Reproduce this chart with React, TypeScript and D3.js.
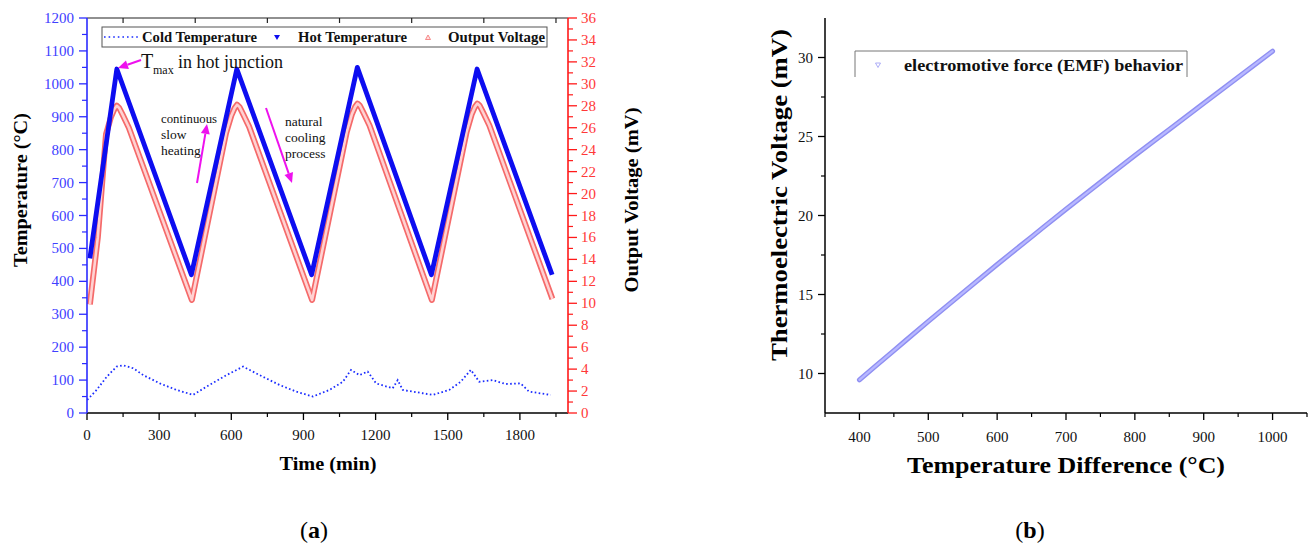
import React from 'react';
import * as d3 from 'd3';

// ---------- Data (a) ----------
const hotTime = [12, 124, 434, 623, 934, 1124, 1432, 1622, 1934];
const hotTemp = [470, 1045, 420, 1045, 420, 1050, 420, 1045, 420];

const voltTime = [12, 45, 79, 100, 114, 124, 134, 150, 174, 436, 578, 600, 614, 624, 634, 650, 674, 936, 1080, 1101, 1115, 1125, 1135, 1151, 1175, 1434, 1578, 1599, 1613, 1623, 1633, 1649, 1673, 1935];
const voltValue = [9.9, 16.0, 25.4, 27.0, 27.7, 28.0, 27.8, 27.1, 26.0, 10.3, 25.5, 27.1, 27.8, 28.1, 27.9, 27.2, 26.1, 10.3, 25.6, 27.2, 27.9, 28.2, 28.0, 27.3, 26.2, 10.3, 25.6, 27.2, 27.9, 28.2, 28.0, 27.3, 26.2, 10.4];

const coldTime = [1, 40, 82, 123, 150, 192, 234, 303, 372, 441, 497, 580, 649, 718, 801, 870, 939, 1008, 1064, 1098, 1133, 1167, 1202, 1271, 1292, 1313, 1396, 1438, 1506, 1554, 1596, 1631, 1686, 1741, 1803, 1838, 1928];
const coldTemp = [40, 70, 110, 141, 145, 136, 115, 90, 70, 55, 80, 115, 141, 115, 85, 65, 50, 70, 95, 131, 115, 126, 90, 75, 100, 70, 60, 55, 70, 95, 131, 95, 100, 88, 90, 65, 55];

const timeTicks = [0, 300, 600, 900, 1200, 1500, 1800];
const tempTicks = [0, 100, 200, 300, 400, 500, 600, 700, 800, 900, 1000, 1100, 1200];
const voltTicks = [0, 2, 4, 6, 8, 10, 12, 14, 16, 18, 20, 22, 24, 26, 28, 30, 32, 34, 36];
const legendA = ['Cold Temperature', 'Hot Temperature', 'Output Voltage'];

// ---------- Data (b) ----------
const dT = [400, 450, 500, 550, 600, 650, 700, 750, 800, 850, 900, 950, 1000];
const emf = [9.6, 11.45, 13.3, 15.1, 16.9, 18.65, 20.4, 22.1, 23.8, 25.45, 27.1, 28.75, 30.4];
const dTTicks = [400, 500, 600, 700, 800, 900, 1000];
const emfTicks = [10, 15, 20, 25, 30];
const legendB = 'electromotive force (EMF) behavior';

const SERIF = '"Liberation Serif", "Times New Roman", serif';
const MAG = '#ee11ee';

function Arrow({ x1, y1, x2, y2 }: { x1: number; y1: number; x2: number; y2: number }) {
  const ang = Math.atan2(y2 - y1, x2 - x1);
  const L = 10, W = 4.5;
  const bx = x2 - L * Math.cos(ang), by = y2 - L * Math.sin(ang);
  const px = -Math.sin(ang) * W, py = Math.cos(ang) * W;
  return (
    <g>
      <line x1={x1} y1={y1} x2={bx} y2={by} stroke={MAG} strokeWidth={2} />
      <path d={`M${x2},${y2}L${bx + px},${by + py}L${bx - px},${by - py}Z`} fill={MAG} />
    </g>
  );
}

export default function App() {
  // scales (a)
  const xA = d3.scaleLinear().domain([0, 2000]).range([87, 568]);
  const yA = d3.scaleLinear().domain([0, 1200]).range([413, 18]);
  const yV = d3.scaleLinear().domain([0, 36]).range([413, 18]);
  // scales (b)
  const xB = d3.scaleLinear().domain([350, 1050]).range([825, 1307]);
  const yB = d3.scaleLinear().domain([7.5, 32.5]).range([413, 18]);

  const hotPath = d3.line<number>().x((_, i) => xA(hotTime[i])).y((d) => yA(d))(hotTemp) || '';
  const voltPath = d3.line<number>().x((_, i) => xA(voltTime[i])).y((d) => yV(d))(voltValue) || '';
  const coldPath = d3.line<number>().x((_, i) => xA(coldTime[i])).y((d) => yA(d))(coldTemp) || '';
  const emfPath = d3.line<number>().x((_, i) => xB(dT[i])).y((d) => yB(d)).curve(d3.curveMonotoneX)(emf) || '';

  const minorTime = d3.range(150, 2000, 300);
  const minorTemp = d3.range(50, 1200, 100);
  const minorVolt = d3.range(1, 36, 2);
  const minorDT = d3.range(350, 1051, 100);
  const minorEmf = d3.range(12.5, 30, 5);

  const blueAx = '#2b2bff';
  const blueLbl = '#4040ff';
  const redAx = '#ff1a1a';
  const redLbl = '#ff3838';

  return (
    <svg width={1310} height={543} style={{ position: 'absolute', left: 0, top: 0, background: '#fff' }} fontFamily={SERIF}>
      <rect x={0} y={0} width={1310} height={543} fill="#fff" />
      {/* ================= (a) ================= */}
      <path d={coldPath} fill="none" stroke="#1a2cff" strokeWidth={1.8} strokeDasharray="1.6 2.4" />
      <path d={voltPath} fill="none" stroke="#f56a6a" strokeWidth={6} strokeLinejoin="round" />
      <path d={voltPath} fill="none" stroke="#ffd2d2" strokeWidth={2.6} strokeLinejoin="round" />
      <path d={hotPath} fill="none" stroke="#0d0df0" strokeWidth={4.8} strokeLinejoin="round" />

      {/* frame: top */}
      <line x1={87} y1={18} x2={568} y2={18} stroke="#222" strokeWidth={1.2} />
      {minorTime.map((t) => (
        <line key={'tt' + t} x1={xA(t)} x2={xA(t)} y1={18} y2={23} stroke="#222" strokeWidth={1.2} />
      ))}
      {/* bottom axis */}
      <line x1={87} y1={413} x2={568} y2={413} stroke="#000" strokeWidth={1.5} />
      {timeTicks.map((t) => (
        <g key={'bt' + t}>
          <line x1={xA(t)} x2={xA(t)} y1={413} y2={420} stroke="#000" strokeWidth={1.3} />
          <text x={xA(t)} y={440} textAnchor="middle" fontSize={15} fill="#111">{t}</text>
        </g>
      ))}
      {minorTime.map((t) => (
        <line key={'bm' + t} x1={xA(t)} x2={xA(t)} y1={413} y2={417} stroke="#000" strokeWidth={1.2} />
      ))}
      <text x={328} y={470} textAnchor="middle" fontSize={18} fontWeight="bold" fill="#000" textLength={97} lengthAdjust="spacingAndGlyphs">Time (min)</text>

      {/* left axis */}
      <line x1={87} y1={18} x2={87} y2={413} stroke={blueAx} strokeWidth={1.6} />
      {tempTicks.map((v) => (
        <g key={'lt' + v}>
          <line x1={79} x2={87} y1={yA(v)} y2={yA(v)} stroke={blueAx} strokeWidth={1.3} />
          <text x={74} y={yA(v) + 5} textAnchor="end" fontSize={15} fill={blueLbl}>{v}</text>
        </g>
      ))}
      {minorTemp.map((v) => (
        <line key={'lm' + v} x1={82} x2={87} y1={yA(v)} y2={yA(v)} stroke={blueAx} strokeWidth={1.2} />
      ))}
      <text transform="translate(27,190) rotate(-90)" textAnchor="middle" fontSize={19} fontWeight="bold" fill="#000" textLength={154} lengthAdjust="spacingAndGlyphs">Temperature (°C)</text>

      {/* right axis */}
      <line x1={568} y1={18} x2={568} y2={413} stroke={redAx} strokeWidth={1.6} />
      {voltTicks.map((v) => (
        <g key={'rt' + v}>
          <line x1={568} x2={577} y1={yV(v)} y2={yV(v)} stroke={redAx} strokeWidth={1.3} />
          <text x={581} y={yV(v) + 5} textAnchor="start" fontSize={15} fill={redLbl}>{v}</text>
        </g>
      ))}
      {minorVolt.map((v) => (
        <line key={'rm' + v} x1={568} x2={573} y1={yV(v)} y2={yV(v)} stroke={redAx} strokeWidth={1.2} />
      ))}
      <text transform="translate(638,200) rotate(-90)" textAnchor="middle" fontSize={19} fontWeight="bold" fill="#000" textLength={185} lengthAdjust="spacingAndGlyphs">Output Voltage (mV)</text>

      {/* legend (a) */}
      <rect x={102} y={27} width={445} height={20} fill="#fff" stroke="#555" strokeWidth={1} />
      <line x1={104} x2={138} y1={37} y2={37} stroke="#1a2cff" strokeWidth={1.6} strokeDasharray="1.6 3" />
      <text x={142} y={42} fontSize={14.5} fontWeight="bold" fill="#111" textLength={115} lengthAdjust="spacingAndGlyphs">{legendA[0]}</text>
      <path d="M274,35L280,35L277,40Z" fill="#0d0df0" />
      <text x={298} y={42} fontSize={14.5} fontWeight="bold" fill="#111" textLength={109} lengthAdjust="spacingAndGlyphs">{legendA[1]}</text>
      <path d="M425.5,39.5L430.5,39.5L428,35Z" fill="#ffe0e0" stroke="#f57070" strokeWidth={0.8} />
      <text x={448} y={42} fontSize={14.5} fontWeight="bold" fill="#111" textLength={97} lengthAdjust="spacingAndGlyphs">{legendA[2]}</text>

      {/* annotations */}
      <text x={141} y={68} fontSize={20} fill="#111">T</text>
      <text x={153} y={74} fontSize={12} fill="#111">max</text>
      <text x={178} y={68} fontSize={18} fill="#111" textLength={105} lengthAdjust="spacingAndGlyphs">in hot junction</text>
      <Arrow x1={141} y1={60} x2={118} y2={68} />

      <text x={161} y={123} fontSize={13.5} fill="#111" textLength={56} lengthAdjust="spacingAndGlyphs">continuous</text>
      <text x={161} y={139} fontSize={13.5} fill="#111">slow</text>
      <text x={161} y={155} fontSize={13.5} fill="#111">heating</text>
      <Arrow x1={197} y1={183} x2={207} y2={124} />

      <text x={285} y={126} fontSize={13.5} fill="#111">natural</text>
      <text x={285} y={142} fontSize={13.5} fill="#111">cooling</text>
      <text x={285} y={158} fontSize={13.5} fill="#111">process</text>
      <Arrow x1={266} y1={108} x2={292} y2={183} />

      <text x={314} y={538} textAnchor="middle" fontSize={24} fill="#000">
        (<tspan fontWeight="bold">a</tspan>)
      </text>

      {/* ================= (b) ================= */}
      <path d={emfPath} fill="none" stroke="#8f8ff2" strokeWidth={5} strokeLinecap="round" />
      <path d={emfPath} fill="none" stroke="#b8b8ff" strokeWidth={2.2} strokeLinecap="round" />

      <line x1={825} y1={18} x2={825} y2={413} stroke="#000" strokeWidth={1.5} />
      {emfTicks.map((v) => (
        <g key={'bl' + v}>
          <line x1={818} x2={825} y1={yB(v)} y2={yB(v)} stroke="#000" strokeWidth={1.3} />
          <text x={813} y={yB(v) + 5} textAnchor="end" fontSize={15} fill="#111">{v}</text>
        </g>
      ))}
      {minorEmf.map((v) => (
        <line key={'blm' + v} x1={821} x2={825} y1={yB(v)} y2={yB(v)} stroke="#000" strokeWidth={1.2} />
      ))}
      <text transform="translate(787,195) rotate(-90)" textAnchor="middle" fontSize={24} fontWeight="bold" fill="#000" textLength={332} lengthAdjust="spacingAndGlyphs">Thermoelectric Voltage (mV)</text>

      <line x1={825} y1={413} x2={1307} y2={413} stroke="#000" strokeWidth={1.5} />
      {dTTicks.map((v) => (
        <g key={'bb' + v}>
          <line x1={xB(v)} x2={xB(v)} y1={413} y2={420} stroke="#000" strokeWidth={1.3} />
          <text x={xB(v)} y={442} textAnchor="middle" fontSize={15} fill="#111">{v}</text>
        </g>
      ))}
      {minorDT.map((v) => (
        <line key={'bbm' + v} x1={xB(v)} x2={xB(v)} y1={413} y2={417} stroke="#000" strokeWidth={1.2} />
      ))}
      <text x={1066} y={473} textAnchor="middle" fontSize={24} fontWeight="bold" fill="#000" textLength={318} lengthAdjust="spacingAndGlyphs">Temperature Difference (°C)</text>

      {/* legend (b) */}
      <path d="M855,77L855,51L1187,51L1187,77" fill="none" stroke="#777" strokeWidth={1} />
      <path d="M875.5,63L880.5,63L878,67.5Z" fill="none" stroke="#9a9af5" strokeWidth={0.8} />
      <text x={904} y={71} fontSize={17} fontWeight="bold" fill="#111" textLength={279} lengthAdjust="spacingAndGlyphs">{legendB}</text>

      <text x={1030} y={538} textAnchor="middle" fontSize={24} fill="#000">
        (<tspan fontWeight="bold">b</tspan>)
      </text>
    </svg>
  );
}
